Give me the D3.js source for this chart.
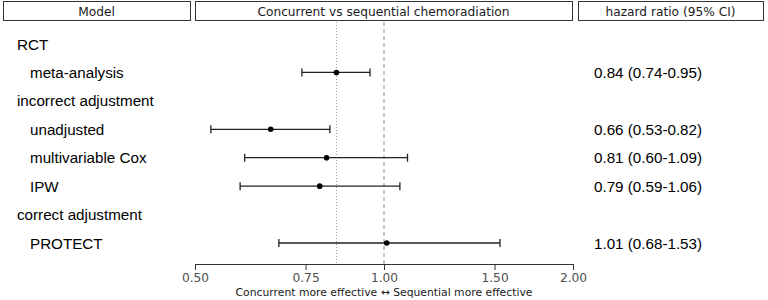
<!DOCTYPE html>
<html><head><meta charset="utf-8">
<script src="https://cdn.jsdelivr.net/npm/d3@7"></script>
<style>body{margin:0;background:#fff}svg{display:block}</style>
</head><body>
<svg id="c" width="768" height="300"></svg>
<script>
const rowLabels = ["RCT","meta-analysis","incorrect adjustment","unadjusted","multivariable Cox","IPW","correct adjustment","PROTECT"];
const rowIsGroup = [true,false,true,false,false,false,true,false];
const estimates = [null,0.84,null,0.66,0.81,0.79,null,1.01];
const lower = [null,0.74,null,0.53,0.60,0.59,null,0.68];
const upper = [null,0.95,null,0.82,1.09,1.06,null,1.53];
const hrText = ["","0.84 (0.74-0.95)","","0.66 (0.53-0.82)","0.81 (0.60-1.09)","0.79 (0.59-1.06)","","1.01 (0.68-1.53)"];
const tickValues = [0.5,0.75,1.0,1.5,2.0];
const tickLabels = ["0.50","0.75","1.00","1.50","2.00"];
const headers = ["Model","Concurrent vs sequential chemoradiation","hazard ratio (95% CI)"];
const refRCT = 0.84, refNull = 1.0;

const svg = d3.select("#c");
const x = d3.scaleLog().domain([0.5,2]).range([195,573]);
const y = d3.scalePoint().domain(d3.range(rowLabels.length)).range([44,243]);

// header boxes
const boxes = [[3,190],[195,572],[578,763]];
boxes.forEach((b,i)=>{
  svg.append("rect").attr("x",b[0]+0.5).attr("y",1.5).attr("width",b[1]-b[0]).attr("height",19)
    .attr("fill","#fff").attr("stroke","#333").attr("stroke-width",1);
  svg.append("text").attr("x",(b[0]+b[1])/2).attr("y",15.5).attr("text-anchor","middle")
    .attr("font-family","DejaVu Sans").attr("font-size",12.2).attr("fill","#1a1a1a").text(headers[i]);
});

// reference lines
svg.append("line").attr("x1",x(refRCT)).attr("x2",x(refRCT)).attr("y1",22).attr("y2",264)
  .attr("stroke","#999").attr("stroke-width",1).attr("stroke-dasharray","1,2");
svg.append("line").attr("x1",x(refNull)).attr("x2",x(refNull)).attr("y1",22).attr("y2",264)
  .attr("stroke","#999").attr("stroke-width",1.1).attr("stroke-dasharray","4,3");

// labels
rowLabels.forEach((l,i)=>{
  svg.append("text").attr("x",rowIsGroup[i]?17:30).attr("y",y(i)+5.5)
    .attr("font-family","Liberation Sans").attr("font-size",15.2).attr("fill","#000").text(l);
  if(hrText[i]) svg.append("text").attr("x",594).attr("y",y(i)+5.5)
    .attr("font-family","Liberation Sans").attr("font-size",15.2).attr("fill","#000").text(hrText[i]);
});

// error bars
const g = svg.append("g");
estimates.forEach((e,i)=>{
  if(e==null) return;
  const yy = y(i);
  g.append("line").attr("x1",x(lower[i])).attr("x2",x(upper[i])).attr("y1",yy).attr("y2",yy)
    .attr("stroke","#222").attr("stroke-width",1.3);
  [lower[i],upper[i]].forEach(v=>g.append("line").attr("x1",x(v)).attr("x2",x(v)).attr("y1",yy-4).attr("y2",yy+4)
    .attr("stroke","#222").attr("stroke-width",1.3));
  g.append("circle").attr("cx",x(e)).attr("cy",yy).attr("r",2.8).attr("fill","#000");
});

// axis
const ax = svg.append("g").attr("transform","translate(0,264)")
  .call(d3.axisBottom(x).tickValues(tickValues).tickFormat((d,i)=>tickLabels[i]).tickSize(6).tickPadding(3).tickSizeOuter(0));
ax.select(".domain").attr("stroke","#333");
ax.selectAll(".tick line").attr("stroke","#333");
ax.selectAll(".tick text").attr("font-family","DejaVu Sans").attr("font-size",12.2).attr("fill","#4d4d4d");
svg.append("text").attr("x",384).attr("y",296).attr("text-anchor","middle")
  .attr("font-family","DejaVu Sans").attr("font-size",10.8).attr("fill","#1a1a1a")
  .text("Concurrent more effective \u2194 Sequential more effective");
</script>
</body></html>
